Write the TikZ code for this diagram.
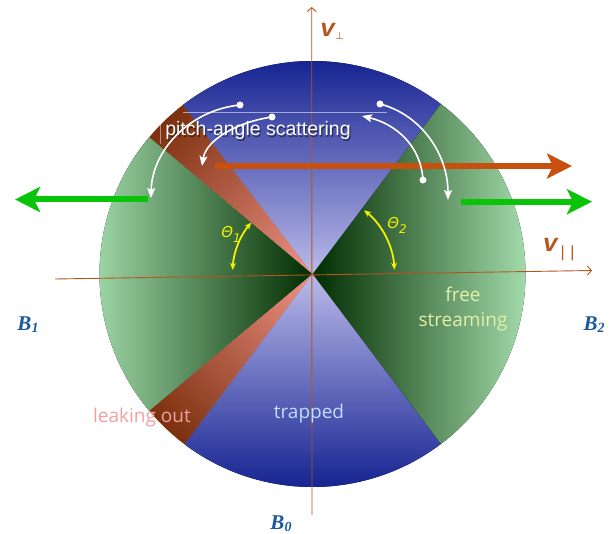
\documentclass[tikz,border=0pt]{standalone}
\usepackage{fontspec}
\setmainfont{Liberation Serif}
\newfontfamily\arialf{Liberation Sans}
\newfontfamily\comicf{Open Sans}
\newfontfamily\dejavuf{DejaVu Sans}
\newfontfamily\monof{Liberation Mono}
\usetikzlibrary{arrows.meta}
\definecolor{axisbrown}{RGB}{180,86,30}
\definecolor{gdark}{RGB}{0,44,0}
\definecolor{glight}{RGB}{168,224,176}
\definecolor{bdark}{RGB}{12,26,140}
\definecolor{blight}{RGB}{186,186,234}
\definecolor{rpink}{RGB}{240,146,136}
\definecolor{rdark}{RGB}{124,48,14}
\definecolor{arrorange}{RGB}{200,80,14}
\definecolor{arrgreen}{RGB}{10,196,10}
\definecolor{blab}{RGB}{26,90,156}
\definecolor{thyellow}{RGB}{240,240,0}
\definecolor{freecol}{RGB}{226,240,168}
\definecolor{trapcol}{RGB}{192,222,255}
\definecolor{leakcol}{RGB}{240,160,160}
\tikzset{
  bigarrow/.style={line width=6pt,-{Stealth[length=25pt,width=25pt,inset=6pt]}},
  scatarrow/.style={white,line width=1.6pt,-{Stealth[length=10pt,width=8pt,inset=2pt]}},
  dotpt/.style={white,fill=white,circle,inner sep=0pt,minimum size=7pt},
  axisline/.style={axisbrown,line width=0.9pt,-{Straight Barb[length=4pt,width=9pt]}},
  thetaarc/.style={thyellow,line width=1.8pt,{Stealth[length=7pt,width=6pt]}-{Stealth[length=7pt,width=6pt]}},
  blabel/.style={blab,font=\fontsize{21}{21}\selectfont\bfseries\itshape},
  comic/.style={font=\comicf\fontsize{19}{21}\selectfont,anchor=base},
  vlabel/.style={axisbrown,font=\monof\bfseries\itshape\fontsize{25}{25}\selectfont,anchor=base,inner sep=0pt},
  thlabel/.style={thyellow,font=\dejavuf\itshape\fontsize{15}{15}\selectfont}
}
\begin{document}
\begin{tikzpicture}[x=1pt,y=-1pt]
\useasboundingbox (0,0) rectangle (611,534);
\coordinate (O) at (312.5,274);
\def\R{213}
% sectors
\fill[left color=gdark,right color=glight]
  (O) -- ++(53:\R) arc[start angle=53,end angle=-53,radius=\R] -- cycle;
\fill[right color=gdark,left color=glight]
  (O) -- ++(-140:\R) arc[start angle=-140,end angle=-220,radius=\R] -- cycle;
\fill[top color=bdark,bottom color=blight]
  (O) -- ++(-53:\R) arc[start angle=-53,end angle=-127.5,radius=\R] -- cycle;
\fill[top color=blight,bottom color=bdark]
  (O) -- ++(-233:\R) arc[start angle=-233,end angle=-307,radius=\R] -- cycle;
\begin{scope}
  \clip (O) -- ++(-127.5:\R) arc[start angle=-127.5,end angle=-140,radius=\R] -- cycle;
  \shade[inner color=rpink,outer color=rdark] (O) circle (\R);
\end{scope}
\begin{scope}
  \clip (O) -- ++(-220:\R) arc[start angle=-220,end angle=-233,radius=\R] -- cycle;
  \shade[inner color=rpink,outer color=rdark] (O) circle (\R);
\end{scope}
% axes
\coordinate (hx0) at (55,279);
\coordinate (hx1) at (592,270.5);
\coordinate (vy0) at (312,515);
\coordinate (vy1) at (311.7,7);
\draw[axisline] (hx0) -- (hx1);
\draw[axisline] (vy0) -- (vy1);
% text box artefacts
\coordinate (tl0) at (183,112.7);
\coordinate (tl1) at (387,112.7);
\draw[white,opacity=0.55,line width=0.8pt] (tl0) -- (tl1);
\coordinate (tc0) at (160.5,122);
\coordinate (tc1) at (160.5,144);
\draw[white,opacity=0.45,line width=0.8pt] (tc0) -- (tc1);
% labels
\node[font=\arialf\fontsize{19.5}{21}\selectfont,black,opacity=0.45,anchor=base] (pasS) at (259.3,137.2) {pitch-angle scattering};
\node[font=\arialf\fontsize{19.5}{21}\selectfont,white,anchor=base] (pas) at (258,136) {pitch-angle scattering};
\node[comic,freecol] (free) at (463,302) {free};
\node[comic,freecol] (stream) at (463,327) {streaming};
\node[comic,trapcol] (trap) at (309,419) {trapped};
\node[comic,leakcol] (leak) at (142,423) {leaking out};
\node[blabel] (B1) at (28,325) {B\raisebox{-2pt}{\fontsize{14}{14}\selectfont 1}};
\node[blabel] (B2) at (594,325) {B\raisebox{-2pt}{\fontsize{14}{14}\selectfont 2}};
\node[blabel] (B0) at (281,524) {B\raisebox{-2pt}{\fontsize{14}{14}\selectfont 0}};
\node[vlabel] (vperp) at (332,37)
  {v\raisebox{-3pt}{\dejavuf\upshape\mdseries\fontsize{10}{10}\selectfont ⊥}};
\node[vlabel] (vpar) at (560,252)
  {v\raisebox{-6pt}{\monof\upshape\mdseries\fontsize{16}{16}\selectfont ||}};
% theta arcs
\draw[thetaarc] (O) ++(-140:80) arc[start angle=-140,end angle=-177,radius=80];
\draw[thetaarc] (O) ++(-51:82) arc[start angle=-51,end angle=-3,radius=82];
\node[thlabel] (th1) at (231,234) {Θ\raisebox{-5pt}{\fontsize{12}{12}\selectfont 1}};
\node[thlabel] (th2) at (397,225) {Θ\raisebox{-5pt}{\fontsize{12}{12}\selectfont 2}};
% big arrows
\coordinate (oa0) at (215,166);
\coordinate (oa1) at (572,166);
\draw[bigarrow,arrorange] (oa0) -- (oa1);
\coordinate (ga0) at (148,199.5);
\coordinate (ga1) at (15,199.5);
\draw[bigarrow,arrgreen] (ga0) -- (ga1);
\coordinate (gb0) at (461,201.7);
\coordinate (gb1) at (592,201.7);
\draw[bigarrow,arrgreen] (gb0) -- (gb1);
% scattering arrows
\node[dotpt] (d1) at (240,105) {};
\node[dotpt] (d2) at (272,117) {};
\node[dotpt] (d3) at (380,104) {};
\node[dotpt] (d4) at (423,180) {};
\coordinate (e1) at (151,198);
\coordinate (e2) at (202,166);
\coordinate (e3) at (448,200);
\coordinate (e4) at (362,116);
\draw[scatarrow] (d1.center) .. controls (190,110) and (152,150) .. (e1);
\draw[scatarrow] (d2.center) .. controls (237,122) and (206,140) .. (e2);
\draw[scatarrow] (d3.center) .. controls (422,115) and (448,155) .. (e3);
\draw[scatarrow] (d4.center) .. controls (421,146) and (396,124) .. (e4);
\end{tikzpicture}
\end{document}
